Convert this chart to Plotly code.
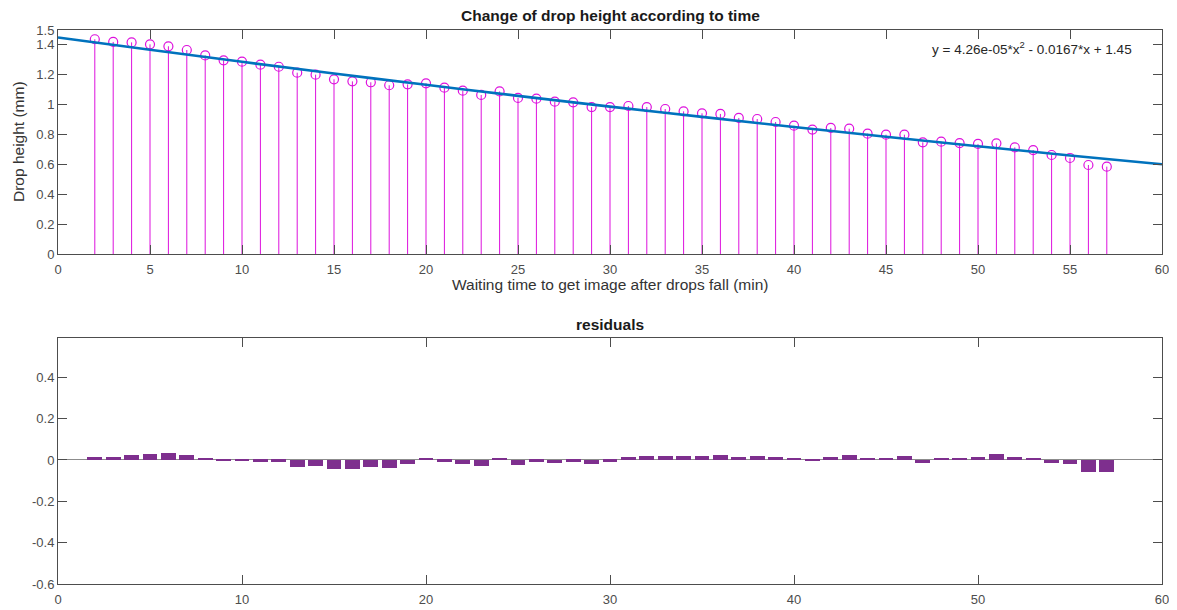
import plotly.graph_objects as go

# ---- data ----
time_min = list(range(2, 58))
drop_height = [1.438, 1.420, 1.417, 1.404, 1.391, 1.366, 1.330, 1.297, 1.288, 1.268,
               1.254, 1.214, 1.201, 1.170, 1.156, 1.150, 1.130, 1.136, 1.143, 1.114,
               1.094, 1.065, 1.089, 1.045, 1.040, 1.020, 1.016, 0.984, 0.984, 0.991,
               0.984, 0.971, 0.955, 0.942, 0.938, 0.911, 0.904, 0.884, 0.859, 0.833,
               0.844, 0.839, 0.806, 0.799, 0.799, 0.748, 0.752, 0.743, 0.737, 0.741,
               0.714, 0.696, 0.663, 0.643, 0.596, 0.585]
residuals = [0.016, 0.016, 0.026, 0.031, 0.036, 0.026, 0.006, -0.006, -0.002, -0.008,
             -0.008, -0.032, -0.028, -0.042, -0.042, -0.032, -0.037, -0.018, 0.006, -0.008,
             -0.018, -0.028, 0.011, -0.023, -0.008, -0.013, -0.008, -0.018, -0.008, 0.016,
             0.021, 0.021, 0.021, 0.021, 0.026, 0.016, 0.021, 0.016, 0.006, -0.006,
             0.016, 0.026, 0.006, 0.011, 0.021, -0.013, 0.006, 0.011, 0.016, 0.031,
             0.016, 0.006, -0.013, -0.018, -0.058, -0.058]
fit_x = [0, 5, 10, 15, 20, 25, 30, 35, 40, 45, 50, 55, 60]
fit_y = [1.450, 1.368, 1.287, 1.209, 1.133, 1.059, 0.987, 0.918, 0.850, 0.785, 0.722, 0.660, 0.601]
fit_label = "y = 4.26e-05*x<sup>2</sup> - 0.0167*x + 1.45"
top_yticks = [0, 0.2, 0.4, 0.6, 0.8, 1, 1.2, 1.4, 1.5]
top_yticktext = ["0", "0.2", "0.4", "0.6", "0.8", "1", "1.2", "1.4", "1.5"]
bot_yticks = [-0.6, -0.4, -0.2, 0, 0.2, 0.4]
bot_yticktext = ["-0.6", "-0.4", "-0.2", "0", "0.2", "0.4"]

OFF = 8  # page body margin
W, H = 1177 - OFF, 610 - OFF
FONT = "Liberation Sans, Arial, sans-serif"
AX = "#4d4d4d"
MAG = "#DD11DD"


def px_x(p):
    return (p - OFF) / W


def px_y(p):
    return (H - (p - OFF)) / H


fig = go.Figure()

# stems
sx, sy = [], []
for x, y in zip(time_min, drop_height):
    sx += [x, x, None]
    sy += [0, y, None]
fig.add_trace(go.Scatter(x=sx, y=sy, mode="lines", line=dict(color=MAG, width=1),
                         xaxis="x", yaxis="y", showlegend=False, hoverinfo="skip"))
fig.add_trace(go.Scatter(x=time_min, y=drop_height, mode="markers",
                         marker=dict(symbol="circle-open", size=9, color=MAG, line=dict(width=1.2, color=MAG)),
                         xaxis="x", yaxis="y", showlegend=False))
fig.add_trace(go.Scatter(x=fit_x, y=fit_y, mode="lines", line=dict(color="#0072BD", width=2.6, shape="spline"),
                         xaxis="x", yaxis="y", showlegend=False))

# residual bars
fig.add_trace(go.Bar(x=time_min, y=residuals, width=0.8, marker=dict(color="#7E2F8E", line=dict(width=0)),
                     xaxis="x2", yaxis="y2", showlegend=False))

axis_common = dict(showline=True, linecolor=AX, linewidth=1, mirror="ticks", ticks="inside",
                   tickcolor=AX, ticklen=9, showgrid=False, zeroline=False, automargin=False,
                   tickfont=dict(family=FONT, size=13, color=AX))

top_dom = [px_y(254), px_y(30)]
bot_dom = [px_y(584), px_y(338)]
x_dom = [px_x(58), px_x(1162)]
x_mid = (x_dom[0] + x_dom[1]) / 2

fig.update_layout(
    template="none",
    width=W, height=H, margin=dict(l=0, r=0, t=0, b=0, pad=0),
    paper_bgcolor="white", plot_bgcolor="white", bargap=0,
    xaxis=dict(domain=x_dom, anchor="y", range=[0, 60], tickvals=list(range(0, 61, 5)),
               ticklabelstandoff=3, **axis_common),
    yaxis=dict(domain=top_dom, anchor="x", range=[0, 1.5], tickvals=top_yticks, ticktext=top_yticktext,
               **axis_common),
    xaxis2=dict(domain=x_dom, anchor="y2", range=[0, 60], tickvals=list(range(0, 61, 10)),
                ticklabelstandoff=3, **axis_common),
    yaxis2=dict(domain=bot_dom, anchor="x2", range=[-0.6, 0.59], tickvals=bot_yticks, ticktext=bot_yticktext,
                **axis_common),
)
fig.update_layout(yaxis2=dict(zeroline=True, zerolinecolor="#8c8c8c", zerolinewidth=1))

annotations = [
    dict(text="<b>Change of drop height according to time</b>", x=x_mid, y=px_y(16),
         xref="paper", yref="paper", showarrow=False, xanchor="center", yanchor="middle",
         font=dict(family=FONT, size=15.5, color="#1a1a1a")),
    dict(text="<b>residuals</b>", x=x_mid, y=px_y(325),
         xref="paper", yref="paper", showarrow=False, xanchor="center", yanchor="middle",
         font=dict(family=FONT, size=15.5, color="#1a1a1a")),
    dict(text="Waiting time to get image after drops fall (min)", x=x_mid, y=px_y(284),
         xref="paper", yref="paper", showarrow=False, xanchor="center", yanchor="middle",
         font=dict(family=FONT, size=15.5, color="#333333")),
    dict(text="Drop height (mm)", x=px_x(18), y=px_y(142), textangle=-90,
         xref="paper", yref="paper", showarrow=False, xanchor="center", yanchor="middle",
         font=dict(family=FONT, size=15.5, color="#333333")),
    dict(text=fit_label, x=47.4, y=1.38, xref="x", yref="y", showarrow=False,
         xanchor="left", yanchor="middle", font=dict(family=FONT, size=13.5, color="#262626")),
]
fig.update_layout(annotations=annotations)

fig.write_html("out.html")
